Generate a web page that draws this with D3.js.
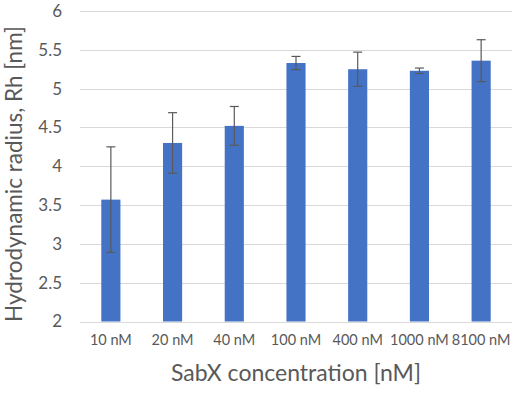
<!DOCTYPE html>
<html>
<head>
<meta charset="utf-8">
<script src="https://cdn.jsdelivr.net/npm/d3@7"></script>
<style>
  body { margin: 0; background: #fff; }
  text { font-family: Lato, "Open Sans", sans-serif; fill: #595959; }
</style>
</head>
<body>
<div id="chart"></div>
<script>
(function() {
  var width = 525, height = 395;
  var margin = { top: 11, left: 80, right: 13, bottom: 74 };

  // values
  var categories = ["10 nM", "20 nM", "40 nM", "100 nM", "400 nM", "1000 nM", "8100 nM"];
  var means = [3.57, 4.30, 4.52, 5.33, 5.25, 5.23, 5.36];
  var errors = [0.68, 0.39, 0.25, 0.085, 0.22, 0.035, 0.27];
  var yTicks = [2, 2.5, 3, 3.5, 4, 4.5, 5, 5.5, 6];

  var svg = d3.select("#chart")
    .append("svg")
    .attr("width", width)
    .attr("height", height);

  var x = d3.scaleBand()
    .domain(categories)
    .range([margin.left, width - margin.right])
    .paddingInner(0.69)
    .paddingOuter(0.345);

  var y = d3.scaleLinear()
    .domain([2, 6])
    .range([height - margin.bottom + 0.5, margin.top]);

  // gridlines
  svg.append("g")
    .selectAll("line")
    .data(yTicks)
    .enter().append("line")
    .attr("x1", margin.left)
    .attr("x2", width - margin.right)
    .attr("y1", function(d) { return Math.round(y(d)) + 0.5; })
    .attr("y2", function(d) { return Math.round(y(d)) + 0.5; })
    .attr("stroke", "#d9d9d9")
    .attr("stroke-width", 1);

  // y tick labels
  svg.append("g")
    .selectAll("text")
    .data(yTicks)
    .enter().append("text")
    .attr("x", 62)
    .attr("y", function(d) { return y(d); })
    .attr("dy", "0.35em")
    .attr("text-anchor", "end")
    .style("font-size", "17px")
    .text(function(d) { return d; });

  // bars
  svg.append("g")
    .selectAll("rect")
    .data(means)
    .enter().append("rect")
    .attr("x", function(d, i) { return x(categories[i]); })
    .attr("width", x.bandwidth())
    .attr("y", function(d) { return y(d); })
    .attr("height", function(d) { return y(2) - y(d); })
    .attr("fill", "#4472c4");

  // error bars
  var eb = svg.append("g")
    .attr("stroke", "#595959")
    .attr("stroke-width", 1.2);

  means.forEach(function(m, i) {
    var cx = x(categories[i]) + x.bandwidth() / 2;
    var lo = y(m - errors[i]), hi = y(m + errors[i]);
    eb.append("line").attr("x1", cx).attr("x2", cx).attr("y1", lo).attr("y2", hi);
    eb.append("line").attr("x1", cx - 4.5).attr("x2", cx + 4.5).attr("y1", lo).attr("y2", lo);
    eb.append("line").attr("x1", cx - 4.5).attr("x2", cx + 4.5).attr("y1", hi).attr("y2", hi);
  });

  // x axis line
  svg.append("line")
    .attr("x1", margin.left)
    .attr("x2", width - margin.right)
    .attr("y1", Math.round(y(2)) + 0.5)
    .attr("y2", Math.round(y(2)) + 0.5)
    .attr("stroke", "#d9d9d9");

  // x tick labels
  svg.append("g")
    .selectAll("text")
    .data(categories)
    .enter().append("text")
    .attr("x", function(d) { return x(d) + x.bandwidth() / 2; })
    .attr("y", 345)
    .attr("text-anchor", "middle")
    .style("font-size", "14.5px")
    .text(function(d) { return d; });

  // axis titles
  svg.append("text")
    .attr("x", 296)
    .attr("y", 381)
    .attr("text-anchor", "middle")
    .style("font-size", "23px")
    .text("SabX concentration [nM]");

  svg.append("text")
    .attr("transform", "translate(22,174) rotate(-90)")
    .attr("text-anchor", "middle")
    .style("font-size", "22.5px")
    .text("Hydrodynamic radius, Rh [nm]");
})();
</script>
</body>
</html>
